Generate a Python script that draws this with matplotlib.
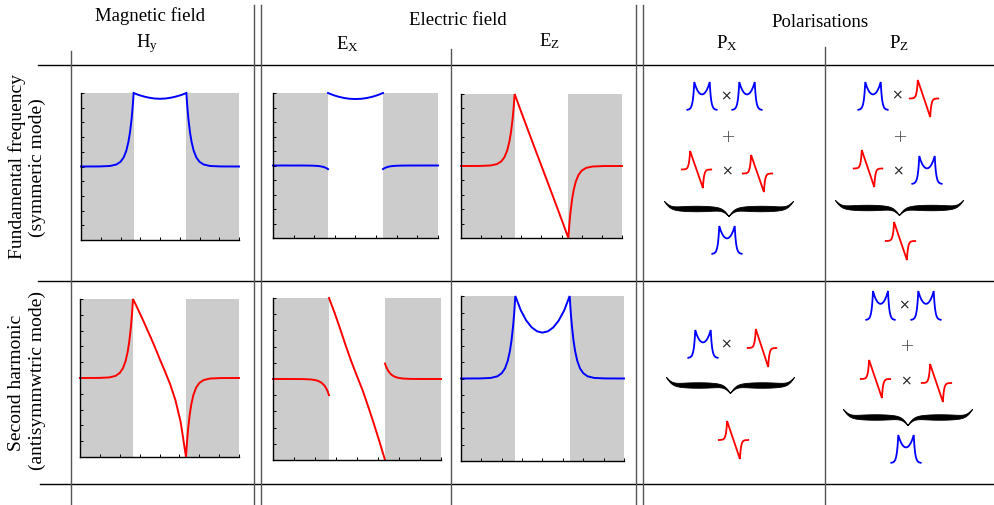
import numpy as np
import matplotlib
matplotlib.use('Agg')
import matplotlib.pyplot as plt

W, H = 995, 506
plt.rcParams['font.family'] = ['Liberation Serif', 'DejaVu Serif']
plt.rcParams['mathtext.fontset'] = 'custom'
plt.rcParams['mathtext.rm'] = 'Liberation Serif'
plt.rcParams['mathtext.it'] = 'Liberation Serif:italic'

# ---------------- data ----------------
# evanescent tail outside the core: distance from interface (core widths), relative amplitude
tail_dist = [0.0, 0.02, 0.04, 0.07, 0.10, 0.14, 0.19, 0.25, 0.33, 0.45, 0.65, 1.0]
tail_amp = [1.0, 0.80, 0.644, 0.463, 0.333, 0.214, 0.123, 0.064, 0.0265, 0.0071, 0.0008, 0.0]

core_x = [-0.5, -0.4, -0.3, -0.2, -0.1, 0.0, 0.1, 0.2, 0.3, 0.4, 0.5]

# fundamental frequency (symmetric mode)
hy_sym_core = [1.0, 0.972, 0.951, 0.935, 0.925, 0.921, 0.925, 0.935, 0.951, 0.972, 1.0]
hy_sym_tails = [1.0, 1.0]
ex_sym_core = [1.0, 0.97, 0.947, 0.93, 0.92, 0.917, 0.92, 0.93, 0.947, 0.97, 1.0]
ex_sym_tails = [-0.05, -0.05]
ez_sym_core = [1.0, 0.795, 0.595, 0.395, 0.197, 0.0, -0.197, -0.395, -0.595, -0.795, -1.0]
ez_sym_tails = [1.0, -1.0]

# second harmonic (antisymmetric mode)
hy_anti_core = [1.0, 0.862, 0.716, 0.566, 0.413, 0.247, 0.088, -0.077, -0.279, -0.56, -1.0]
hy_anti_tails = [1.0, -1.0]
ex_anti_core = [1.0, 0.817, 0.617, 0.41, 0.214, 0.035, -0.139, -0.34, -0.55, -0.77, -1.0]
ex_anti_tails = [-0.2, 0.19]
ez_anti_core = [1.0, 0.827, 0.704, 0.62, 0.572, 0.556, 0.572, 0.62, 0.704, 0.827, 1.0]
ez_anti_tails = [1.0, 1.0]

BLUE = '#0000ff'
RED = '#ff0000'
GRAY = '#cccccc'

fig = plt.figure(figsize=(W / 100, H / 100), dpi=100)
ov = fig.add_axes([0, 0, 1, 1])
ov.set_xlim(0, W)
ov.set_ylim(H, 0)
ov.axis('off')


def rect(x0, x1, y0, y1):
    return [x0 / W, 1 - y1 / H, (x1 - x0) / W, (y1 - y0) / H]


def curve_pieces(core_y, tails, max_d=None):
    td = [d for d in tail_dist if max_d is None or d <= max_d]
    ta = tail_amp[:len(td)]
    lx = [-0.5 - d for d in td][::-1]
    ly = [tails[0] * a for a in ta][::-1]
    rx = [0.5 + d for d in td]
    ry = [tails[1] * a for a in ta]
    return (lx, ly), (core_x, core_y), (rx, ry)


def draw_curve(ax, core_y, tails, color, lw, max_d=None):
    (lx, ly), (cx, cy), (rx, ry) = curve_pieces(core_y, tails, max_d)
    if abs(tails[0] - cy[0]) < 1e-9 and abs(tails[1] - cy[-1]) < 1e-9:
        ax.plot(lx[:-1] + list(cx) + rx[1:], ly[:-1] + list(cy) + ry[1:],
                color=color, lw=lw, clip_on=False, solid_joinstyle='miter')
    else:
        for xs, ys in ((lx, ly), (cx, cy), (rx, ry)):
            ax.plot(xs, ys, color=color, lw=lw, clip_on=False)


def panel(r, core_y, tails, color):
    ax = fig.add_axes(rect(*r))
    ax.axvspan(-1.5, -0.5, color=GRAY, lw=0)
    ax.axvspan(0.5, 1.5, color=GRAY, lw=0)
    draw_curve(ax, core_y, tails, color, 1.4)
    ax.set_xlim(-1.5, 1.5)
    ax.set_ylim(-1, 1)
    ax.set_xticks(np.linspace(-1.5, 1.5, 9))
    ax.set_yticks(np.linspace(-1, 1, 11))
    ax.tick_params(direction='in', length=2.2, width=0.7, labelbottom=False,
                   labelleft=False, colors='black')
    for s in ('top', 'right'):
        ax.spines[s].set_visible(False)
    for s in ('left', 'bottom'):
        ax.spines[s].set_linewidth(1.0)
    ax.set_facecolor('white')
    return ax


panel((81, 239, 94, 241), hy_sym_core, hy_sym_tails, BLUE)
panel((273, 438, 94, 239), ex_sym_core, ex_sym_tails, BLUE)
panel((461, 622, 95, 239), ez_sym_core, ez_sym_tails, RED)
panel((80, 239, 300, 458), hy_anti_core, hy_anti_tails, RED)
panel((273, 441, 299, 461), ex_anti_core, ex_anti_tails, RED)
panel((461, 624, 297, 462), ez_anti_core, ez_anti_tails, BLUE)


# ---------------- glyphs ----------------
def glyph_m(x0, x1, y0, y1):
    ax = fig.add_axes(rect(x0, x1, y0, y1))
    ax.axis('off')
    draw_curve(ax, ez_anti_core, ez_anti_tails, BLUE, 1.3, max_d=0.6)
    ax.set_xlim(-1.1, 1.1)
    ax.set_ylim(0, 1)


def glyph_n(x0, x1, y0, y1):
    ax = fig.add_axes(rect(x0, x1, y0, y1))
    ax.axis('off')
    draw_curve(ax, ez_sym_core, ez_sym_tails, RED, 1.3, max_d=0.87)
    ax.set_xlim(-1.37, 1.37)
    ax.set_ylim(-1, 1)


def times(x, y):
    ov.text(x, y, '×', ha='center', va='center', fontsize=10,
            family='DejaVu Sans', color='#222222')


def plus(x, y):
    ov.text(x, y, '+', ha='center', va='center', fontsize=13,
            family='DejaVu Sans', color='#444444', fontweight='light')


def brace(x0, x1, y0, y1, tmax=5.5, beta=40):
    u = np.linspace(0, 1, 801)
    s = np.minimum(u, 1 - u)
    sig = lambda z: 1 / (1 + np.exp(-z))
    f = sig(beta * s) + sig(beta * (s - 0.5)) - 0.5
    f = (f - f.min()) / (f.max() - f.min())
    t = tmax * np.sin(np.pi * s / 0.5) ** 0.7
    xs = x0 + u * (x1 - x0)
    yc = y0 + f * (y1 - y0)
    ov.fill_between(xs, yc - t / 2, yc + t / 2, color='black', lw=0.6)


# row 1, Px
glyph_m(685, 719, 83, 111); times(726, 96); glyph_m(730, 764, 83, 111)
plus(728, 137)
glyph_n(679, 714, 152, 189); times(727, 171); glyph_n(740, 775, 156, 193)
brace(664, 793, 202, 217)
glyph_m(710, 744, 227, 255)
# row 1, Pz
glyph_m(856, 890, 83, 111); times(897, 95); glyph_n(907, 941, 81, 118)
plus(900, 137)
glyph_n(851, 885, 151, 188); times(898, 171); glyph_m(910, 944, 157, 185)
brace(835, 963, 201, 216)
glyph_n(883, 918, 223, 261)
# row 2, Px
glyph_m(686, 720, 331, 359); times(726, 344); glyph_n(745, 779, 330, 368)
brace(666, 794, 378, 394)
glyph_n(716, 751, 422, 460)
# row 2, Pz
glyph_m(864, 897, 292, 321); times(904, 305); glyph_m(909, 943, 292, 321)
plus(907, 346)
glyph_n(858, 893, 361, 399); times(906, 381); glyph_n(919, 954, 365, 403)
brace(843, 972, 410, 426)
glyph_m(889, 923, 436, 464)

# ---------------- table rules ----------------
for y, xa in ((65.5, 38), (282, 38), (485, 40)):
    ov.plot([xa, W], [y, y], color='black', lw=1.0)
VC = '#555555'
for x, ya in ((71, 52), (253.5, 6), (260.5, 6), (451, 50), (636, 6), (643, 6), (825, 48)):
    ov.plot([x, x], [ya, H], color=VC, lw=1.0)

# ---------------- texts ----------------
FS = 13.5
ov.text(150, 21, 'Magnetic field', ha='center', va='baseline', fontsize=FS)
ov.text(458, 25, 'Electric field', ha='center', va='baseline', fontsize=FS)
ov.text(820, 27, 'Polarisations', ha='center', va='baseline', fontsize=FS)
ov.text(147, 47, r'H$_{\rm y}$', ha='center', va='baseline', fontsize=FS)
ov.text(347, 49, r'E$_{\rm X}$', ha='center', va='baseline', fontsize=FS)
ov.text(549, 46, r'E$_{\rm Z}$', ha='center', va='baseline', fontsize=FS)
ov.text(727, 48, r'P$_{\rm X}$', ha='center', va='baseline', fontsize=FS)
ov.text(899, 48, r'P$_{\rm Z}$', ha='center', va='baseline', fontsize=FS)

RS = 14
ov.text(17, 166, 'Fundamental frequency', rotation=90, ha='center', va='center', fontsize=RS)
ov.text(37, 168, '(symmeric mode)', rotation=90, ha='center', va='center', fontsize=RS)
ov.text(17, 383, 'Second harmonic', rotation=90, ha='center', va='center', fontsize=RS)
ov.text(37, 381, '(antisymmwtric mode)', rotation=90, ha='center', va='center', fontsize=RS)

fig.savefig('out.png', dpi=100)
